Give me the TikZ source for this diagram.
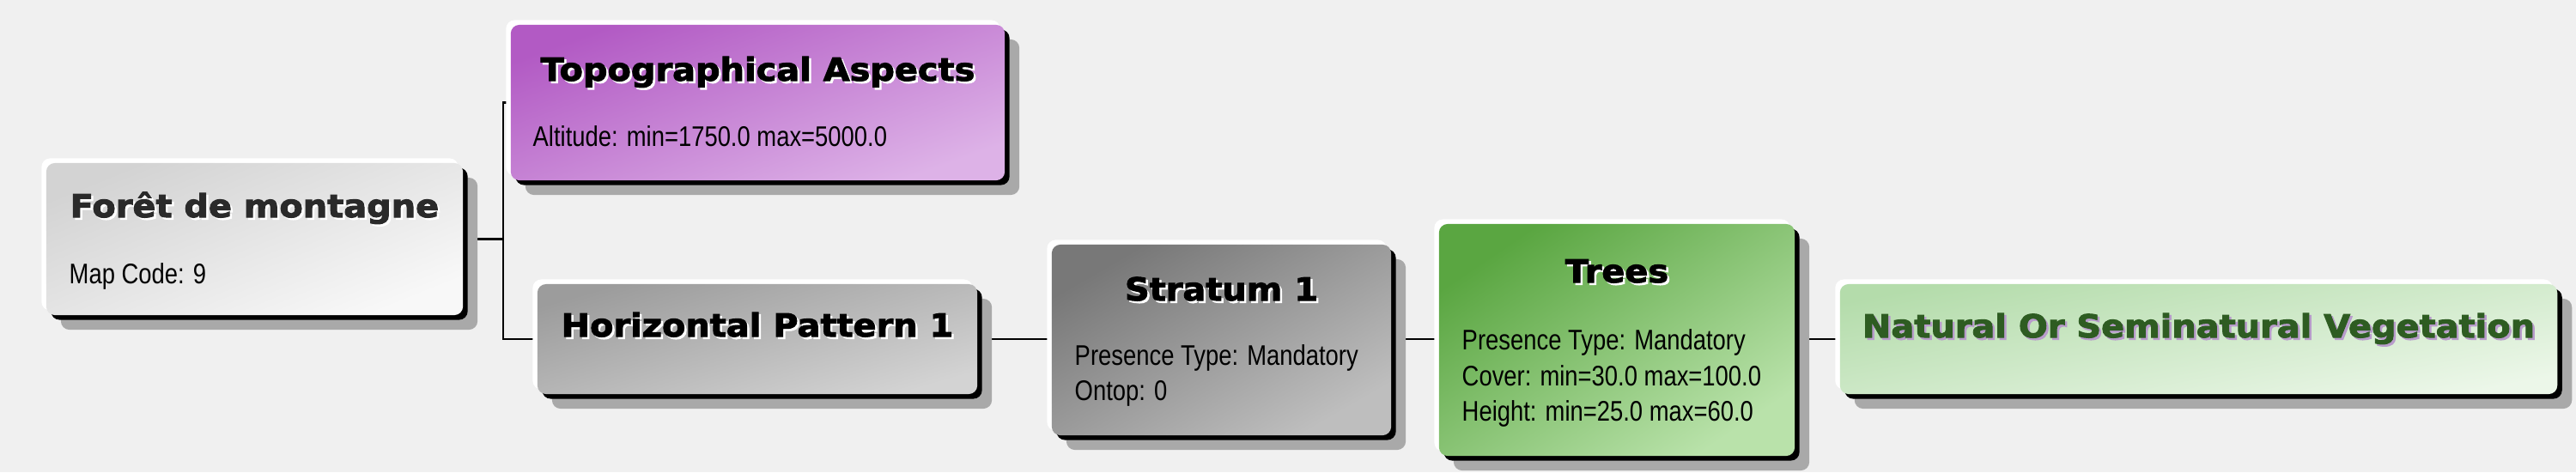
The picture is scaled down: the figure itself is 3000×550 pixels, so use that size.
\documentclass[tikz,border=0pt]{standalone}
\usepackage{fontspec}
\setmainfont{Liberation Sans}
\newfontfamily\titlefont[FakeStretch=1.08,FakeBold=2.6]{DejaVu Sans Bold}
\newfontfamily\bodyfont[FakeStretch=0.83]{Liberation Sans}
\usetikzlibrary{shadows}
\definecolor{bgc}{HTML}{F0F0F0}
\definecolor{shadowc}{HTML}{A9A9A9}
\definecolor{foA}{HTML}{D3D3D3}\definecolor{foB}{HTML}{F8F8F8}
\definecolor{toA}{HTML}{B25AC4}\definecolor{toB}{HTML}{DDB2E7}
\definecolor{hpA}{HTML}{9C9C9C}\definecolor{hpB}{HTML}{D3D3D3}
\definecolor{stA}{HTML}{787878}\definecolor{stB}{HTML}{BEBEBE}
\definecolor{trA}{HTML}{5AA641}\definecolor{trB}{HTML}{B9E2AA}
\definecolor{naA}{HTML}{B4DCAB}\definecolor{naB}{HTML}{ECF7E9}
\definecolor{natxt}{HTML}{2E5C22}\definecolor{nashadow}{HTML}{B89CCB}
\definecolor{fotxt}{HTML}{2A2A2A}
\newcommand\shadowedtitle[3]{\makebox[0pt][l]{\hspace{0.025cm}\raisebox{-0.025cm}{\color{#1}#3}}{\color{#2}#3}}
\pgfdeclarelayer{bg}\pgfdeclarelayer{edges}
\pgfsetlayers{bg,edges,main}
\tikzset{
  box/.style={rectangle, rounded corners=0.1cm, inner sep=0pt, draw=none,
    general shadow={fill=shadowc, shadow xshift=0.17cm, shadow yshift=-0.17cm},
    general shadow={fill=black, shadow xshift=0.055cm, shadow yshift=-0.055cm},
    general shadow={fill=white, shadow xshift=-0.055cm, shadow yshift=0.055cm}},
  grad/.style n args={3}{top color=#1, bottom color=#2, shading angle=#3},
  ttl/.style={inner sep=0pt, anchor=base, font=\titlefont\fontsize{10.5pt}{12pt}\selectfont},
  bodytxt/.style={inner sep=0pt, anchor=base west, font=\bodyfont\fontsize{9.39pt}{11pt}\selectfont},
  conn/.style={draw=black, line width=0.7pt},
}
\begin{document}
\begin{tikzpicture}[x=0.01cm, y=-0.01cm]
\begin{pgfonlayer}{bg}
\fill[bgc] (0,0) rectangle (3000,550);
\end{pgfonlayer}
\useasboundingbox (0,0) rectangle (3000,550);
% boxes
\node[box, grad={foA}{foB}{22}, minimum width=4.85cm, minimum height=1.77cm] (fo) at (296.5,278.5) {};
\node[box, grad={toA}{toB}{20}, minimum width=5.75cm, minimum height=1.81cm] (topo) at (882.5,119.5) {};
\node[box, grad={hpA}{hpB}{16}, minimum width=5.12cm, minimum height=1.28cm] (hp) at (882,395) {};
\node[box, grad={stA}{stB}{30}, minimum width=3.95cm, minimum height=2.22cm] (st) at (1422.5,396) {};
\node[box, grad={trA}{trB}{34}, minimum width=4.14cm, minimum height=2.70cm] (tr) at (1883,396) {};
\node[box, grad={naA}{naB}{11}, minimum width=8.35cm, minimum height=1.28cm] (nat) at (2560.5,395) {};
% texts
\node[ttl] (fot) at (296.5,253) {\shadowedtitle{white}{fotxt}{Forêt de montagne}};
\node[bodytxt] (fob) at (80,330) {Map Code: 9};
\node[ttl] (tot) at (882.5,94) {\shadowedtitle{white}{black}{Topographical Aspects}};
\node[bodytxt] (tob) at (620,170) {Altitude: min=1750.0 max=5000.0};
\node[ttl] (hpt) at (882,392) {\shadowedtitle{white}{black}{Horizontal Pattern 1}};
\node[ttl] (stt) at (1422.5,350) {\shadowedtitle{white}{black}{Stratum 1}};
\node[bodytxt] (stb1) at (1251,425) {Presence Type: Mandatory};
\node[bodytxt] (stb2) at (1251,466) {Ontop: 0};
\node[ttl] (trt) at (1883,329) {\shadowedtitle{white}{black}{Trees}};
\node[bodytxt] (trb1) at (1702,407) {Presence Type: Mandatory};
\node[bodytxt] (trb2) at (1702,449) {Cover: min=30.0 max=100.0};
\node[bodytxt] (trb3) at (1702,490) {Height: min=25.0 max=60.0};
\node[ttl] (natt) at (2560.5,393) {\shadowedtitle{nashadow}{natxt}{Natural Or Seminatural Vegetation}};
% connectors
\coordinate (j) at ([xshift=0.46cm]fo.east);
\begin{pgfonlayer}{edges}
\draw[conn] (fo.east) -- (j) |- (topo.west);
\draw[conn] (j) |- (hp.west);
\draw[conn] (hp.east) -- (hp.east -| st.west);
\draw[conn] (st.east |- hp.east) -- (hp.east -| tr.west);
\draw[conn] (tr.east |- hp.east) -- (hp.east -| nat.west);
\end{pgfonlayer}
\end{tikzpicture}
\end{document}
